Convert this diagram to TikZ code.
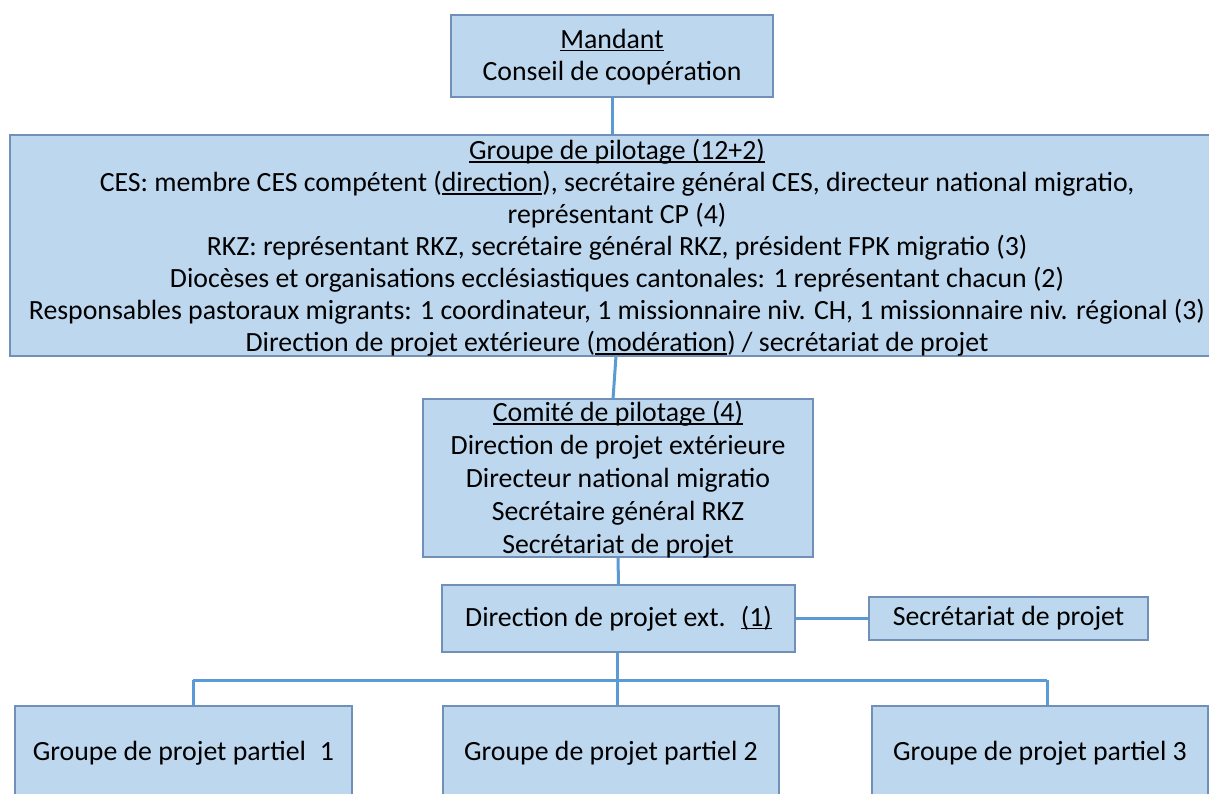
\documentclass[tikz,border=0pt]{standalone}
\usepackage{fontspec}
\setmainfont{Carlito}
\definecolor{boxfill}{HTML}{BDD7EE}
\definecolor{boxline}{HTML}{7090B8}
\definecolor{connline}{HTML}{5B9BD5}
\newcommand{\myul}[1]{\setbox0\hbox{#1}\rlap{\rule[-0.11em]{\wd0}{0.055em}}\box0}
\tikzset{
  orgbox/.style={draw=boxline, fill=boxfill, line width=1.4pt, inner sep=0pt},
  orgtext/.style={inner sep=0pt, align=center, font=\fontsize{27.8}{33}\selectfont},
  conn/.style={draw=connline, line width=3pt}
}
\begin{document}
\begin{tikzpicture}[x=1pt,y=-1pt]
\useasboundingbox (0,0) rectangle (1209,793);
\clip (0,0) rectangle (1209,793);
\fill[white] (0,0) rectangle (1209,793);

\node[orgbox, minimum width=322pt, minimum height=82pt] (mandant) at (612,56) {};
\node[orgtext, font=\fontsize{27.8}{32}\selectfont] (mandantT) at (612,57) {\myul{Mandant}\\Conseil de coopération};

\node[orgbox, minimum width=1214pt, minimum height=221pt] (groupe) at (617,245.5) {};
\node[orgtext, font=\fontsize{27.8}{32}\selectfont] (groupeT) at (617,248)
  {\myul{Groupe de pilotage (12+2)}\\
   CES: membre CES compétent (\myul{direction}), secrétaire général CES, directeur national migratio,\\
   représentant CP (4)\\
   RKZ: représentant RKZ, secrétaire général RKZ, président FPK migratio (3)\\
   Diocèses et organisations ecclésiastiques cantonales: 1 représentant chacun (2)\\
   Responsables pastoraux migrants: 1 coordinateur, 1 missionnaire niv. CH, 1 missionnaire niv. régional (3)\\
   Direction de projet extérieure (\myul{modération}) / secrétariat de projet};

\node[orgbox, minimum width=390pt, minimum height=158pt] (comite) at (618,478) {};
\node[orgtext] (comiteT) at (618,480)
  {\myul{Comité de pilotage (4)}\\
   Direction de projet extérieure\\
   Directeur national migratio\\
   Secrétaire général RKZ\\
   Secrétariat de projet};

\node[orgbox, minimum width=353pt, minimum height=67pt] (direction) at (618.5,618.5) {};
\node[orgtext] (directionT) at (direction)
  {Direction de projet ext.\hspace{0.55em}\myul{(1)}};

\node[orgbox, minimum width=279pt, minimum height=43pt] (secr) at (1008.5,618.5) {};
\node[orgtext] (secrT) at (secr) {Secrétariat de projet};

\node[orgbox, minimum width=337pt, minimum height=94pt] (g1) at (183.5,753) {};
\node[orgtext] (g1T) at (g1) {Groupe de projet partiel\hspace{0.5em}1};
\node[orgbox, minimum width=336pt, minimum height=94pt] (g2) at (611,753) {};
\node[orgtext] (g2T) at (g2) {Groupe de projet partiel 2};
\node[orgbox, minimum width=336pt, minimum height=94pt] (g3) at (1040,753) {};
\node[orgtext] (g3T) at (g3) {Groupe de projet partiel 3};

\coordinate (busL) at (193,680);
\coordinate (busM) at (617,680);
\coordinate (busR) at (1047,680);

\draw[conn] (mandant.south) -- (mandant.south |- groupe.north);
\draw[conn] (616,356) -- (613,399);
\draw[conn] (comite.south) -- (direction.north);
\draw[conn] (direction.east) -- (secr.west);
\draw[conn] (busM |- direction.south) -- (busM |- g2.north);
\draw[conn] (busL) -- (busR);
\draw[conn] (busL) -- (busL |- g1.north);
\draw[conn] (busR) -- (busR |- g3.north);
\end{tikzpicture}
\end{document}
